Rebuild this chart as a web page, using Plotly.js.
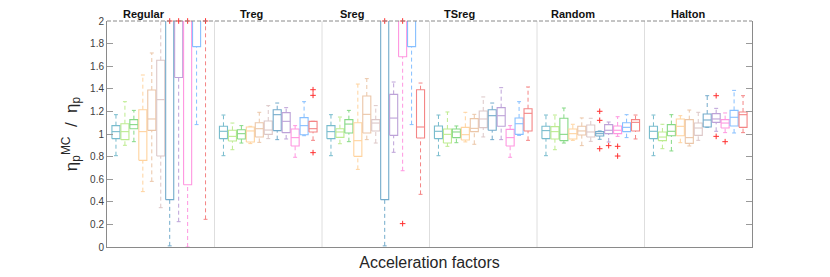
<!DOCTYPE html>
<html>
<head>
<meta charset="utf-8">
<script src="https://cdn.plot.ly/plotly-3.0.1.min.js"></script>
<style>html,body{margin:0;padding:0;background:#fff;}#chart{width:830px;height:277px;}</style>
</head>
<body>
<div id="chart"></div>
<script>
// ---- data (6 groups x 11 acceleration factors) ----
const groups = ['Regular', 'Treg', 'Sreg', 'TSreg', 'Random', 'Halton'];
const factorCount = 11;

const lowWhisker = [
  0.808, 0.900, 0.932, 0.490, 0.581, 0.348, 0.010, 0.224, 0.000, 1.083, 0.245,
  0.808, 0.861, 0.920, 0.915, 0.926, 0.959, 0.950, 0.956, 0.794, 0.985, 0.944,
  0.808, 0.914, 0.932, 0.687, 0.950, 0.920, 0.010, 0.838, 0.675, 1.083, 0.466,
  0.808, 0.891, 0.923, 0.930, 0.909, 0.974, 0.950, 0.950, 0.794, 0.988, 0.944,
  0.808, 0.861, 0.920, 0.944, 0.897, 0.935, 0.953, 0.929, 0.979, 0.968, 0.956,
  0.808, 0.870, 0.850, 0.923, 0.894, 0.944, 1.059, 1.024, 1.012, 1.009, 1.012
];
const q1 = [
  0.959, 0.950, 1.047, 0.767, 1.032, 0.805, 0.419, 1.500, 0.551, 1.773, 2.200,
  0.959, 0.938, 0.956, 0.929, 0.973, 0.997, 1.030, 1.012, 0.894, 0.994, 1.018,
  0.959, 0.970, 1.009, 0.802, 1.009, 1.026, 0.419, 0.988, 1.684, 1.773, 0.964,
  0.959, 0.920, 0.968, 0.947, 1.021, 1.056, 1.033, 1.068, 0.894, 0.997, 1.027,
  0.959, 0.956, 0.941, 0.956, 0.991, 0.973, 0.982, 1.003, 1.003, 1.021, 1.027,
  0.959, 0.941, 0.985, 0.985, 0.917, 0.988, 1.062, 1.103, 1.053, 1.071, 1.059
];
const median = [
  1.021, 1.021, 1.083, 1.021, 1.133, 1.304, 2.400, 2.200, 2.300, 2.100, 2.500,
  1.024, 0.979, 1.003, 1.027, 1.047, 1.035, 1.171, 1.112, 0.968, 1.074, 1.047,
  1.021, 1.018, 1.088, 0.941, 1.174, 1.097, 2.400, 1.141, 2.200, 2.100, 1.062,
  1.024, 0.997, 1.018, 0.994, 1.050, 1.133, 1.162, 1.162, 0.968, 1.091, 1.183,
  1.030, 1.021, 0.997, 1.003, 1.027, 1.018, 1.003, 1.033, 1.033, 1.059, 1.103,
  1.024, 0.973, 1.024, 1.068, 0.968, 1.053, 1.124, 1.133, 1.097, 1.148, 1.171
];
const q3 = [
  1.074, 1.091, 1.127, 1.215, 1.389, 1.652, 3.000, 2.600, 2.800, 2.400, 2.800,
  1.068, 1.033, 1.038, 1.062, 1.100, 1.115, 1.215, 1.189, 1.044, 1.145, 1.112,
  1.074, 1.047, 1.127, 1.100, 1.336, 1.127, 3.000, 1.351, 2.600, 2.400, 1.392,
  1.071, 1.044, 1.044, 1.059, 1.136, 1.204, 1.215, 1.233, 1.041, 1.142, 1.224,
  1.068, 1.065, 1.139, 1.044, 1.068, 1.080, 1.021, 1.083, 1.071, 1.100, 1.127,
  1.068, 1.018, 1.083, 1.133, 1.127, 1.097, 1.177, 1.180, 1.127, 1.209, 1.195
];
const highWhisker = [
  1.171, 1.286, 1.209, 1.522, 1.717, 2.300, 3.500, 3.000, 3.500, 2.800, 3.200,
  1.168, 1.097, 1.074, 1.068, 1.192, 1.251, 1.274, 1.233, 1.074, 1.286, 1.112,
  1.171, 1.150, 1.209, 1.442, 1.490, 1.251, 3.500, 1.460, 3.000, 2.800, 1.451,
  1.168, 1.195, 1.071, 1.192, 1.174, 1.328, 1.274, 1.410, 1.074, 1.286, 1.416,
  1.168, 1.168, 1.230, 1.086, 1.142, 1.139, 1.027, 1.106, 1.153, 1.171, 1.168,
  1.168, 1.086, 1.171, 1.162, 1.212, 1.192, 1.339, 1.227, 1.186, 1.386, 1.339
];
// outliers: index of the box (group*11 + factor) and displayed value
const outlierBox = [6, 7, 8, 10, 21, 21, 21, 28, 30, 30, 50, 50, 50, 51, 52, 52, 62, 62, 63];
const outlierValue = [2.0, 2.0, 2.0, 2.0, 1.392, 1.342, 0.835, 2.0, 2.0, 0.207, 1.201, 1.121, 0.870, 0.897, 0.891, 0.805, 1.339, 0.979, 0.932];

// ---- styles ----
const colors = ['#78bccd', '#bdeb8f', '#86d986', '#ffd39e', '#ebc6a8', '#dcc7c7',
                '#73abcb', '#bda2d8', '#ff96e0', '#86bfff', '#f48585'];
const groupGap = 12;
const boxHalf = 0.45, capHalf = 0.22;

function xPos(g, k) { return g * groupGap + k + 1; }

const traces = [];
for (let k = 0; k < factorCount; k++) {
  const bx = [], by = [], wx = [], wy = [], cx = [], cy = [];
  for (let g = 0; g < groups.length; g++) {
    const i = g * factorCount + k;
    const xc = xPos(g, k), x0 = xc - boxHalf, x1 = xc + boxHalf;
    bx.push(x0, x1, x1, x0, x0, null, x0, x1, null);
    by.push(q1[i], q1[i], q3[i], q3[i], q1[i], null, median[i], median[i], null);
    wx.push(xc, xc, null, xc, xc, null);
    wy.push(q3[i], highWhisker[i], null, lowWhisker[i], q1[i], null);
    cx.push(xc - capHalf, xc + capHalf, null, xc - capHalf, xc + capHalf, null);
    cy.push(highWhisker[i], highWhisker[i], null, lowWhisker[i], lowWhisker[i], null);
  }
  traces.push({x: wx, y: wy, type: 'scatter', mode: 'lines', hoverinfo: 'skip',
    line: {color: colors[k], width: 1, dash: '4px,3px'}, showlegend: false});
  traces.push({x: cx, y: cy, type: 'scatter', mode: 'lines', hoverinfo: 'skip',
    line: {color: colors[k], width: 1}, showlegend: false});
  traces.push({x: bx, y: by, type: 'scatter', mode: 'lines', hoverinfo: 'skip',
    line: {color: colors[k], width: 1.1}, showlegend: false});
}
traces.push({
  x: outlierBox.map(i => xPos(Math.floor(i / factorCount), i % factorCount)),
  y: outlierValue, type: 'scatter', mode: 'markers', cliponaxis: false,
  marker: {symbol: 'cross-thin', size: 4, line: {color: '#ff3030', width: 1}},
  showlegend: false, hoverinfo: 'skip'
});

const labelPos = [4.1, 16.1, 27.4, 39.4, 52.0, 64.9];
const annotations = groups.map((g, i) => ({
  text: g, x: labelPos[i], xref: 'x', y: 1, yref: 'paper',
  yanchor: 'bottom', yshift: -1, showarrow: false,
  font: {family: 'Liberation Sans, Arial, sans-serif', size: 11, color: '#111', weight: 'bold'}
}));

const shapes = [];
for (let g = 1; g < groups.length; g++) {
  shapes.push({type: 'line', xref: 'x', yref: 'paper', x0: g * groupGap, x1: g * groupGap,
    y0: 0, y1: 1, line: {color: '#dedede', width: 1}, layer: 'below'});
}
shapes.push({type: 'line', xref: 'paper', yref: 'paper', x0: 0, x1: 1, y0: 1, y1: 1,
  line: {color: '#8a8a8a', width: 1, dash: '4px,2px'}});

const layout = {
  width: 830, height: 277,
  margin: {l: 107, r: 78, t: 21, b: 30, pad: 0},
  paper_bgcolor: '#fff', plot_bgcolor: '#fff',
  font: {family: 'Liberation Sans, Arial, sans-serif', color: '#404040'},
  xaxis: {
    range: [0, groups.length * groupGap], showgrid: false, zeroline: false,
    showticklabels: false, ticks: '', showline: true, linecolor: '#8a8a8a', linewidth: 1,
    title: {text: 'Acceleration factors', font: {size: 16, color: '#262626'}, standoff: 9}
  },
  yaxis: {
    range: [0, 2], tick0: 0, dtick: 0.2, showgrid: false, zeroline: false,
    ticks: 'inside', ticklen: 6, tickcolor: '#9a9a9a', tickwidth: 1,
    showline: true, linecolor: '#8a8a8a', linewidth: 1, mirror: 'ticks',
    tickfont: {size: 10, color: '#404040'},
    title: {text: 'η<sub>p</sub><sup>MC</sup>  /  η<sub>p</sub>', font: {size: 17, color: '#262626'}, standoff: 8}
  },
  annotations: annotations,
  shapes: shapes
};

Plotly.newPlot('chart', traces, layout, {staticPlot: true, displayModeBar: false});
</script>
</body>
</html>
